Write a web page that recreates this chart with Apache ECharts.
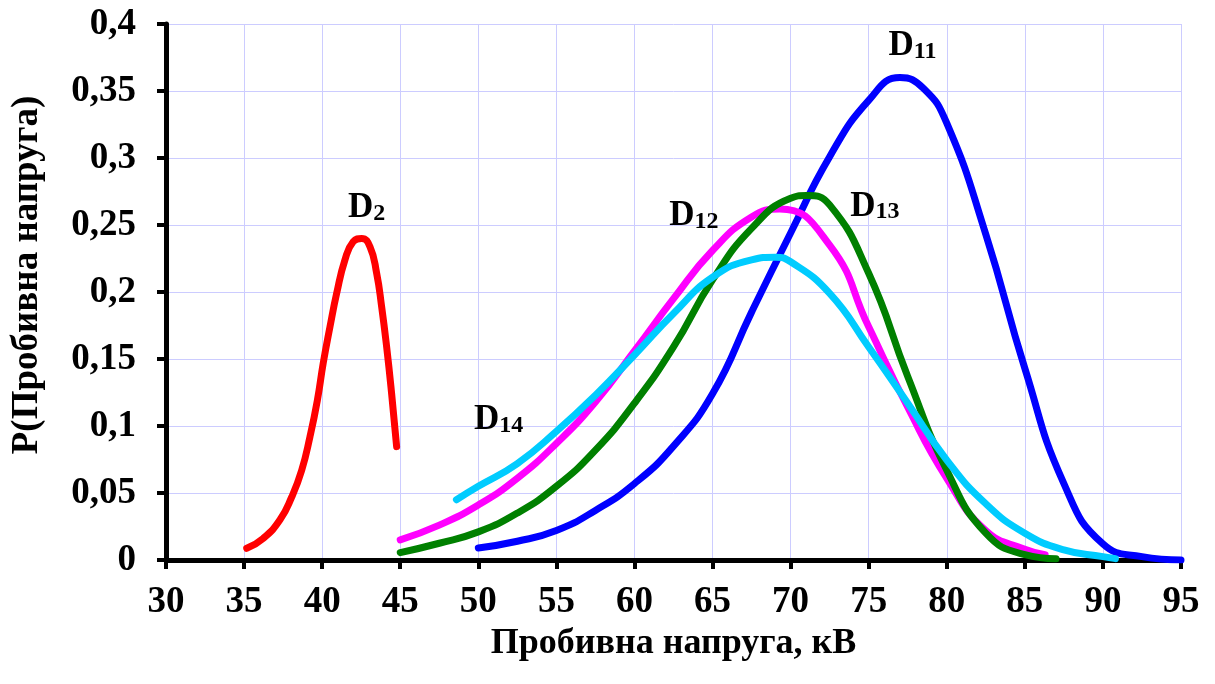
<!DOCTYPE html>
<html>
<head>
<meta charset="utf-8">
<script src="https://cdn.jsdelivr.net/npm/echarts@6/dist/echarts.min.js"></script>
<style>html,body{margin:0;padding:0;background:#fff}#c{width:1215px;height:684px}</style>
</head>
<body>
<div id="c"></div>
<script>
// ---- data ----
const d2X  = [35.17, 36.23, 37.3, 38.05, 38.69, 39.22, 39.69, 40.07, 40.5, 40.93, 41.46, 41.99, 42.53, 43.06, 43.49, 43.81, 44.13, 44.45, 44.77];
const d2Y  = [0.0087, 0.0162, 0.03, 0.047, 0.067, 0.092, 0.119, 0.147, 0.174, 0.199, 0.224, 0.2376, 0.240, 0.2338, 0.214, 0.189, 0.159, 0.124, 0.0846];

const d11X = [50, 52.5, 55, 57.5, 60, 62.5, 65, 67.5, 70, 72.5, 75, 77, 78.5, 80, 82.5, 85, 87.5, 90, 92.5, 95];
const d11Y = [0.009, 0.014, 0.022, 0.037, 0.057, 0.085, 0.124, 0.185, 0.244, 0.301, 0.343, 0.360, 0.352, 0.326, 0.243, 0.143, 0.057, 0.012, 0.0025, 0.0];

const d12X = [45, 47.5, 50, 52.5, 55, 57.5, 60, 62.5, 65, 67.5, 69.3, 72.5, 75, 77.5, 80, 82.5, 85, 86.3];
const d12Y = [0.015, 0.026, 0.041, 0.061, 0.087, 0.118, 0.156, 0.195, 0.231, 0.256, 0.262, 0.235, 0.174, 0.114, 0.061, 0.022, 0.008, 0.004];

const d13X = [45, 47.5, 50, 52.5, 55, 57.5, 60, 62.5, 65, 67.5, 70, 71, 72.5, 75, 77.5, 80, 82.5, 85, 87];
const d13Y = [0.0055, 0.0125, 0.021, 0.035, 0.055, 0.082, 0.117, 0.159, 0.209, 0.2475, 0.270, 0.272, 0.265, 0.214, 0.137, 0.067, 0.020, 0.004, 0.001];

const d14X = [48.6, 50, 52.5, 55, 57.5, 60, 62.5, 65, 67.5, 69, 70, 72.5, 75, 77.5, 80, 82.5, 85, 87.5, 90, 90.8];
const d14Y = [0.045, 0.055, 0.072, 0.096, 0.123, 0.153, 0.184, 0.211, 0.224, 0.226, 0.2226, 0.199, 0.159, 0.117, 0.0746, 0.042, 0.020, 0.0075, 0.0025, 0.001];

const seriesNames  = ['D2', 'D11', 'D12', 'D13', 'D14'];
const labelSub     = ['2', '11', '12', '13', '14'];
const labelX       = [42.85, 77.8, 63.8, 75.4, 51.3];
const labelY       = [0.263, 0.384, 0.257, 0.264, 0.105];

const xTitle = 'Пробивна напруга, кВ';
const yTitle = 'P(Пробивна напруга)';

// ---- chart ----
const colors = ['#ff0000', '#0000ff', '#ff00ff', '#008000', '#00ccff'];
const xs = [d2X, d11X, d12X, d13X, d14X];
const ys = [d2Y, d11Y, d12Y, d13Y, d14Y];
const FONT = '"Liberation Serif", "Times New Roman", serif';

const lineSeries = xs.map((xArr, i) => ({
  name: seriesNames[i],
  type: 'line',
  smooth: 0.5,
  showSymbol: false,
  symbol: 'none',
  lineStyle: { color: colors[i], width: 7, cap: 'round', join: 'round' },
  data: xArr.map((x, k) => [x, ys[i][k]]),
  z: 3
}));

const labelSeries = {
  type: 'scatter',
  symbolSize: 0,
  silent: true,
  z: 5,
  itemStyle: { opacity: 1, color: '#000' },
  data: labelX.map((x, i) => ({ value: [x, labelY[i]], sub: labelSub[i] })),
  label: {
    show: true,
    position: 'inside',
    align: 'center',
    verticalAlign: 'middle',
    opacity: 1,
    color: '#000',
    formatter: p => '{d|D}{s|' + p.data.sub + '}',
    rich: {
      d: { fontFamily: FONT, fontWeight: 'bold', fontSize: 35, color: '#000', verticalAlign: 'bottom', lineHeight: 36 },
      s: { fontFamily: FONT, fontWeight: 'bold', fontSize: 24, color: '#000', verticalAlign: 'bottom', lineHeight: 36, padding: [12, 0, 0, 0] }
    }
  }
};

const chart = echarts.init(document.getElementById('c'), null, { renderer: 'canvas' });
chart.setOption({
  animation: false,
  backgroundColor: '#ffffff',
  grid: { left: 166, right: 34, top: 24, bottom: 124, containLabel: false, outerBoundsMode: 'none' },
  xAxis: {
    type: 'value', min: 30, max: 95, interval: 5,
    name: xTitle, nameLocation: 'middle', nameGap: 58,
    nameTextStyle: { fontFamily: FONT, fontWeight: 'bold', fontSize: 36, color: '#000' },
    axisLine: { show: true, onZero: false, lineStyle: { color: '#000', width: 5 } },
    axisTick: { show: true, inside: false, length: 9, lineStyle: { color: '#000', width: 4 } },
    axisLabel: { margin: 24, fontFamily: FONT, fontWeight: 'bold', fontSize: 37, color: '#000' },
    splitLine: { show: true, lineStyle: { color: '#ccccff', width: 1 } }
  },
  yAxis: {
    type: 'value', min: 0, max: 0.4, interval: 0.05,
    axisLine: { show: true, onZero: false, lineStyle: { color: '#000', width: 5 } },
    axisTick: { show: true, inside: false, length: 9, lineStyle: { color: '#000', width: 4 } },
    axisLabel: {
      margin: 30, fontFamily: FONT, fontWeight: 'bold', fontSize: 37, color: '#000',
      formatter: v => (v === 0 ? '0' : String(+v.toFixed(2)).replace('.', ','))
    },
    splitLine: { show: true, lineStyle: { color: '#ccccff', width: 1 } }
  },
  graphic: [{
    type: 'text',
    x: 27, y: 275,
    rotation: Math.PI / 2,
    style: {
      text: yTitle, fontFamily: FONT, fontWeight: 'bold', fontSize: 37, fill: '#000',
      align: 'center', verticalAlign: 'middle'
    }
  }],
  series: lineSeries.concat([labelSeries])
});
</script>
</body>
</html>
